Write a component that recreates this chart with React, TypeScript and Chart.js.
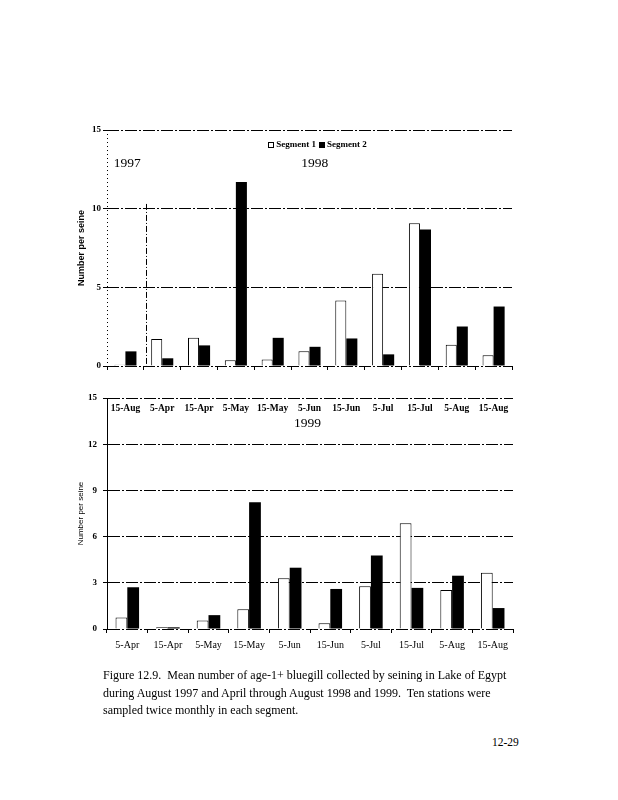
import React, { useEffect, useRef } from 'react';
import { Chart, registerables } from 'chart.js';

Chart.register(...registerables);

// ---------- data ----------
const SERIES_NAMES = ['Segment 1', 'Segment 2'];
const Y_TITLE = 'Number per seine';

const TOP_CATEGORIES = ['15-Aug', '5-Apr', '15-Apr', '5-May', '15-May', '5-Jun', '15-Jun', '5-Jul', '15-Jul', '5-Aug', '15-Aug'];
const TOP_SEG1 = [0.08, 1.71, 1.79, 0.36, 0.42, 0.93, 4.16, 5.87, 9.08, 1.35, 0.68];
const TOP_SEG2 = [0.93, 0.49, 1.31, 11.69, 1.79, 1.22, 1.75, 0.74, 8.67, 2.51, 3.78];
const TOP_YEARS = ['1997', '1998'];

const BOTTOM_CATEGORIES = ['5-Apr', '15-Apr', '5-May', '15-May', '5-Jun', '15-Jun', '5-Jul', '15-Jul', '5-Aug', '15-Aug'];
const BOTTOM_SEG1 = [0.74, 0.11, 0.55, 1.29, 3.3, 0.37, 2.78, 6.87, 2.54, 3.66];
const BOTTOM_SEG2 = [2.71, 0.11, 0.9, 8.23, 3.98, 2.6, 4.77, 2.67, 3.46, 1.36];
const BOTTOM_YEARS = ['1999'];

const CAPTION_LINES = [
  'Figure 12.9.  Mean number of age-1+ bluegill collected by seining in Lake of Egypt',
  'during August 1997 and April through August 1998 and 1999.  Ten stations were',
  'sampled twice monthly in each segment.',
];
const PAGE_NUMBER = '12-29';

// ---------- styles ----------
const SERIF = '"Liberation Serif", "Times New Roman", serif';
const SANS = '"Liberation Sans", Arial, sans-serif';
const GRID_DASH = [12, 2, 2, 2];

type FontCfg = { size: number; weight: string; family: string; lineHeight?: string };

type PanelCfg = {
  categories: string[];
  seg1: number[];
  seg2: number[];
  yStep: number;
  years: { text: string; at: number; y: number }[];
  legend?: { at: number; y: number };
  separatorAt?: number;
  separatorTop?: number;
  dottedAxis: boolean;
  left: number;
  top: number;
  width: number;
  height: number;
  padTop: number;
  padRight: number;
  yWidth: number;
  xHeight: number;
  xFont: FontCfg;
  yTitleFont: FontCfg;
  yTickPad: number;
  catPct: number;
};

const annotationPlugin = (cfg: PanelCfg) => ({
  id: 'pageAnnotations',
  afterDraw(chart: any) {
    const { ctx, chartArea } = chart;
    const xs = chart.scales.x;
    const ys = chart.scales.y;
    ctx.save();
    ctx.strokeStyle = '#000';
    ctx.fillStyle = '#000';
    ctx.lineWidth = 1;
    if (cfg.dottedAxis) {
      ctx.setLineDash([1, 3]);
      ctx.beginPath();
      ctx.moveTo(chartArea.left + 0.5, chartArea.top);
      ctx.lineTo(chartArea.left + 0.5, chartArea.bottom);
      ctx.stroke();
    }
    if (cfg.separatorAt !== undefined) {
      const px = Math.round(xs.getPixelForValue(cfg.separatorAt)) + 0.5;
      ctx.setLineDash([6, 2, 1, 2]);
      ctx.beginPath();
      ctx.moveTo(px, ys.getPixelForValue(cfg.separatorTop ?? 10));
      ctx.lineTo(px, ys.getPixelForValue(0));
      ctx.stroke();
    }
    ctx.setLineDash([]);
    ctx.font = `13.5px ${SERIF}`;
    ctx.textAlign = 'center';
    ctx.textBaseline = 'middle';
    cfg.years.forEach((yr) => {
      ctx.fillText(yr.text, xs.getPixelForValue(yr.at), ys.getPixelForValue(yr.y));
    });
    if (cfg.legend) {
      ctx.font = `bold 9px ${SERIF}`;
      const box = 5;
      const items = chart.data.datasets.map((d: any) => ({
        label: d.label,
        fill: d.backgroundColor,
        w: ctx.measureText(d.label).width,
      }));
      const total = items.reduce((s: number, it: any) => s + box + 3 + it.w, 0) + 3 * (items.length - 1);
      let cx = xs.getPixelForValue(cfg.legend.at) - total / 2;
      const cy = ys.getPixelForValue(cfg.legend.y);
      ctx.textAlign = 'left';
      items.forEach((it: any) => {
        ctx.fillStyle = it.fill;
        ctx.fillRect(Math.round(cx) + 0.5, Math.round(cy - box / 2) + 0.5, box, box);
        ctx.strokeStyle = '#000';
        ctx.strokeRect(Math.round(cx) + 0.5, Math.round(cy - box / 2) + 0.5, box, box);
        ctx.fillStyle = '#000';
        ctx.fillText(it.label, cx + box + 3, cy + 0.5);
        cx += box + 3 + it.w + 3;
      });
    }
    ctx.restore();
  },
});

function Panel({ cfg }: { cfg: PanelCfg }) {
  const ref = useRef<HTMLCanvasElement | null>(null);
  useEffect(() => {
    if (!ref.current) return;
    const chart = new Chart(ref.current, {
      type: 'bar',
      data: {
        labels: cfg.categories,
        datasets: [
          {
            label: SERIES_NAMES[0],
            data: cfg.seg1,
            backgroundColor: '#ffffff',
            borderColor: '#000000',
            borderWidth: 1,
            barPercentage: 1,
            categoryPercentage: cfg.catPct,
          },
          {
            label: SERIES_NAMES[1],
            data: cfg.seg2,
            backgroundColor: '#000000',
            borderColor: '#000000',
            borderWidth: 0,
            barPercentage: 1,
            categoryPercentage: cfg.catPct,
          },
        ],
      },
      options: {
        responsive: false,
        animation: false,
        layout: { padding: { top: cfg.padTop, right: cfg.padRight, left: 0, bottom: 0 } },
        plugins: { legend: { display: false }, tooltip: { enabled: false } },
        scales: {
          x: {
            offset: true,
            grid: {
              display: true,
              drawOnChartArea: false,
              drawTicks: true,
              tickLength: 4,
              color: '#000',
              tickColor: '#000',
              offset: true,
            },
            border: { display: false },
            ticks: {
              color: '#000',
              font: cfg.xFont as any,
              padding: 2,
              maxRotation: 0,
              autoSkip: false,
            },
            afterFit: (s: any) => {
              s.height = cfg.xHeight;
            },
          },
          y: {
            min: 0,
            max: 15,
            ticks: {
              stepSize: cfg.yStep,
              color: '#000',
              font: { size: 9, weight: 'bold', family: SERIF },
              padding: cfg.yTickPad,
            },
            grid: {
              color: '#000',
              lineWidth: 1,
              drawTicks: true,
              tickLength: 4,
              tickColor: '#000',
            },
            border: { display: !cfg.dottedAxis, color: '#000', width: 1, dash: GRID_DASH },
            title: {
              display: true,
              text: Y_TITLE,
              color: '#000',
              font: cfg.yTitleFont as any,
              padding: { top: 16, bottom: 0 },
            },
            afterFit: (s: any) => {
              s.width = cfg.yWidth;
            },
          },
        },
      },
      plugins: [annotationPlugin(cfg)],
    });
    return () => chart.destroy();
  }, [cfg]);
  return (
    <canvas
      ref={ref}
      width={cfg.width}
      height={cfg.height}
      style={{ position: 'absolute', left: cfg.left, top: cfg.top, width: cfg.width, height: cfg.height }}
    />
  );
}

const TOP_CFG: PanelCfg = {
  categories: TOP_CATEGORIES,
  seg1: TOP_SEG1,
  seg2: TOP_SEG2,
  yStep: 5,
  years: [
    { text: TOP_YEARS[0], at: 0.05, y: 12.9 },
    { text: TOP_YEARS[1], at: 5.14, y: 12.9 },
  ],
  legend: { at: 5.22, y: 14.1 },
  separatorAt: 0.55,
  separatorTop: 10.3,
  dottedAxis: true,
  left: 60,
  top: 115,
  width: 460,
  height: 310,
  padTop: 15,
  padRight: 8,
  yWidth: 47,
  xHeight: 59,
  xFont: { size: 9.5, weight: 'bold', family: SERIF, lineHeight: '74px' },
  yTitleFont: { size: 9, weight: 'bold', family: SANS },
  yTickPad: 2,
  catPct: 0.6,
};

const BOTTOM_CFG: PanelCfg = {
  categories: BOTTOM_CATEGORIES,
  seg1: BOTTOM_SEG1,
  seg2: BOTTOM_SEG2,
  yStep: 3,
  years: [{ text: BOTTOM_YEARS[0], at: 4.44, y: 13.36 }],
  dottedAxis: false,
  left: 60,
  top: 385,
  width: 460,
  height: 280,
  padTop: 13,
  padRight: 7,
  yWidth: 47,
  xHeight: 36,
  xFont: { size: 10, weight: 'normal', family: SERIF, lineHeight: '20px' },
  yTitleFont: { size: 8, weight: 'normal', family: SANS },
  yTickPad: 6,
  catPct: 0.58,
};

export default function App() {
  return (
    <div style={{ position: 'absolute', left: 0, top: 0, width: 618, height: 800, background: '#fff', overflow: 'hidden' }}>
      <Panel cfg={TOP_CFG} />
      <Panel cfg={BOTTOM_CFG} />
      <div
        style={{
          position: 'absolute',
          left: 103,
          top: 667,
          fontFamily: SERIF,
          fontSize: 12,
          lineHeight: '17.5px',
          whiteSpace: 'pre',
          color: '#000',
        }}
      >
        {CAPTION_LINES.join('\n')}
      </div>
      <div
        style={{
          position: 'absolute',
          left: 492,
          top: 733,
          fontFamily: SERIF,
          fontSize: 11.5,
          lineHeight: '18px',
          color: '#000',
        }}
      >
        {PAGE_NUMBER}
      </div>
    </div>
  );
}
